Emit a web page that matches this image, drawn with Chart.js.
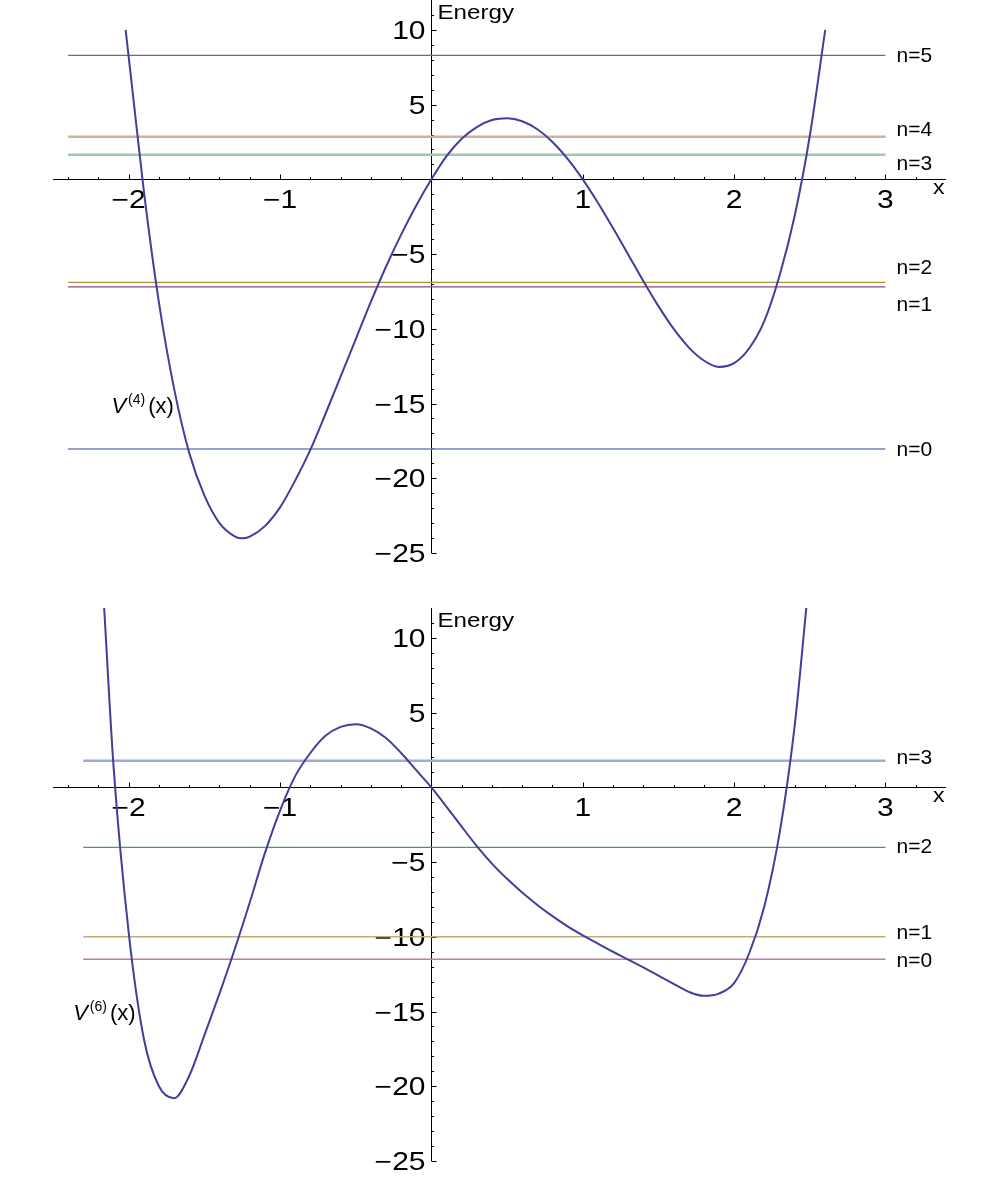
<!DOCTYPE html>
<html>
<head>
<meta charset="utf-8">
<script src="https://cdn.jsdelivr.net/npm/chart.js@4.4.1/dist/chart.umd.min.js"></script>
<style>
  body { margin: 0; background: #fff; }
  canvas { display: block; }
</style>
</head>
<body>
<canvas id="panelTop" width="1000" height="590"></canvas>
<canvas id="panelBottom" width="1000" height="589"></canvas>
<script>
// Potential V(4)(x)
const curveTopX = [-2.02, -1.96, -1.9, -1.8, -1.7, -1.6, -1.5, -1.4, -1.3, -1.25, -1.2, -1.1, -1.0, -0.9, -0.8, -0.7, -0.6, -0.5, -0.4, -0.3, -0.2, -0.1, 0,
  0.1, 0.2, 0.3, 0.4, 0.5, 0.6, 0.7, 0.8, 0.9, 1.0, 1.1, 1.2, 1.3, 1.4, 1.5, 1.6, 1.7, 1.8, 1.9, 2.0, 2.1, 2.2, 2.3, 2.4, 2.5, 2.602];
const curveTopY = [10.0, 4.6, -0.75, -8.25, -14.0, -18.3, -21.15, -23.0, -23.88, -24.02, -23.9, -23.2, -21.95, -20.15, -18.1, -15.7, -13.2, -10.7, -8.2, -5.85, -3.7, -1.75, 0,
  1.55, 2.72, 3.5, 3.97, 4.09, 3.89, 3.35, 2.5, 1.37, 0, -1.56, -3.26, -5.02, -6.8, -8.48, -9.99, -11.24, -12.12, -12.55, -12.3, -11.3, -9.47, -6.45, -2.45, 2.9, 10.0];

// Energy levels, upper plot
const levelsTop = [-18.04, -7.2, -6.89, 1.65, 2.85, 8.29];
const levelNamesTop = ['n=0', 'n=1', 'n=2', 'n=3', 'n=4', 'n=5'];
const levelColorsTop = ['#7282b8', '#8e4a7c', '#a89432', '#9ccba6', '#cab49c', '#8a5a96'];
const levelWidthsTop = [1.5, 1.3, 1.3, 2.5, 2.5, 1.3];
const labelShiftTop = [-1, 16, -16, 8, -8, -1];

// Potential V(6)(x)
const curveBotX = [-2.162, -2.1, -2.0, -1.9, -1.8, -1.7, -1.6, -1.5, -1.4, -1.3, -1.2, -1.1, -1.0, -0.9, -0.8, -0.7, -0.6, -0.5, -0.4, -0.3, -0.2, -0.1, 0,
  0.1, 0.2, 0.3, 0.4, 0.5, 0.6, 0.7, 0.8, 0.9, 1.0, 1.1, 1.2, 1.3, 1.4, 1.5, 1.6, 1.7, 1.8, 1.9, 2.0, 2.1, 2.2, 2.3, 2.4, 2.477];
const curveBotY = [12.0, 1.4, -9.7, -16.8, -20.0, -20.8, -19.3, -16.6, -13.8, -10.85, -7.7, -4.4, -1.55, 0.75, 2.3, 3.45, 4.05, 4.23, 3.95, 3.3, 2.3, 1.15, 0,
  -1.3, -2.63, -3.93, -5.1, -6.12, -7.04, -7.87, -8.62, -9.3, -9.9, -10.45, -11.0, -11.52, -12.05, -12.6, -13.15, -13.68, -13.95, -13.8, -13.1, -11.1, -7.95, -3.1, 4.1, 12.0];

// Energy levels, lower plot
const levelsBot = [-11.5, -10.0, -4.01, 1.78];
const levelNamesBot = ['n=0', 'n=1', 'n=2', 'n=3'];
const levelColorsBot = ['#b87fa8', '#c0ae70', '#4f9960', '#9eabd0'];
const levelWidthsBot = [1.5, 1.5, 1.3, 2.5];
const labelShiftBot = [0, -5, -2, -4];

// axis ticks
const xMajor = [-2, -1, 1, 2, 3];
const yMajor = [-25, -20, -15, -10, -5, 5, 10];

const FONT = '"Liberation Sans", Arial, sans-serif';
const minus = v => (v < 0 ? '\u2212' + Math.abs(v) : String(v));

function stretchText(ctx, text, px, py, sx, align) {
  ctx.save();
  ctx.translate(px, py);
  ctx.scale(sx, 1);
  ctx.textAlign = align;
  ctx.textBaseline = 'alphabetic';
  ctx.fillText(text, 0, 0);
  ctx.restore();
}

const mmaAxes = {
  id: 'mmaAxes',
  beforeDatasetsDraw(chart) {
    const { ctx, chartArea: a } = chart;
    const sx = chart.scales.x, sy = chart.scales.y;
    const x0 = Math.round(sx.getPixelForValue(0)) + 0.5;
    const y0 = Math.round(sy.getPixelForValue(0)) + 0.5;
    ctx.save();
    ctx.strokeStyle = '#000';
    ctx.lineWidth = 1;
    ctx.beginPath();
    ctx.moveTo(a.left, y0); ctx.lineTo(a.right, y0);
    ctx.moveTo(x0, a.top); ctx.lineTo(x0, a.bottom);
    // x ticks every 0.2, major at integers
    for (let i = -12; i <= 16; i++) {
      if (i === 0) continue;
      const px = Math.round(sx.getPixelForValue(i / 5)) + 0.5;
      const len = i % 5 === 0 ? 5 : 2.5;
      ctx.moveTo(px, y0); ctx.lineTo(px, y0 - len);
    }
    // y ticks every 1, major every 5
    for (let v = -25; v <= 11; v++) {
      if (v === 0) continue;
      const py = Math.round(sy.getPixelForValue(v)) + 0.5;
      const len = v % 5 === 0 ? 5 : 2.5;
      ctx.moveTo(x0, py); ctx.lineTo(x0 + len, py);
    }
    ctx.stroke();

    ctx.fillStyle = '#000';
    ctx.font = '25px ' + FONT;
    xMajor.forEach(v => stretchText(ctx, minus(v), sx.getPixelForValue(v), y0 + 28.5, 1.2, 'center'));
    yMajor.forEach(v => stretchText(ctx, minus(v), x0 - 6, sy.getPixelForValue(v) + 9, 1.2, 'right'));

    ctx.font = '21px ' + FONT;
    stretchText(ctx, 'Energy', x0 + 6, a.top + 19, 1.15, 'left');
    stretchText(ctx, 'x', a.right - 13, y0 + 14.5, 1.1, 'left');
    ctx.restore();
  },
  afterDatasetsDraw(chart, args, opts) {
    const { ctx } = chart;
    const sx = chart.scales.x, sy = chart.scales.y;
    ctx.save();
    ctx.fillStyle = '#000';
    ctx.font = '21px ' + FONT;
    ctx.textAlign = 'left';
    ctx.textBaseline = 'alphabetic';
    opts.levels.forEach((e, i) => {
      ctx.fillText(opts.names[i], sx.getPixelForValue(3) + 11, sy.getPixelForValue(e) + opts.shift[i] + 7.6);
    });
    // potential label V^(k)(x)
    let px = sx.getPixelForValue(opts.vx);
    const py = sy.getPixelForValue(opts.vy);
    ctx.font = 'italic 22px ' + FONT;
    ctx.fillText('V', px, py);
    px += ctx.measureText('V').width + 2;
    ctx.font = '14px ' + FONT;
    ctx.fillText(opts.sup, px, py - 9);
    px += ctx.measureText(opts.sup).width + 3;
    ctx.font = '22px ' + FONT;
    ctx.fillText('(x)', px, py);
    ctx.restore();
  }
};

function makePanel(id, cx, cy, levels, names, colors, widths, shift, levelFrom, pad, vLabel) {
  const datasets = [{
    data: cx.map((x, i) => ({ x: x, y: cy[i] })),
    showLine: true,
    borderColor: '#3f3f9c',
    borderWidth: 2,
    pointRadius: 0,
    cubicInterpolationMode: 'monotone'
  }];
  levels.forEach((e, i) => {
    datasets.push({
      data: [{ x: levelFrom, y: e }, { x: 3, y: e }],
      showLine: true,
      borderColor: colors[i],
      borderWidth: widths[i],
      pointRadius: 0
    });
  });
  return new Chart(document.getElementById(id), {
    type: 'scatter',
    data: { datasets: datasets },
    options: {
      responsive: false,
      animation: false,
      layout: { padding: pad },
      plugins: {
        legend: { display: false },
        tooltip: { enabled: false },
        mmaAxes: { levels: levels, names: names, shift: shift, vx: vLabel.x, vy: vLabel.y, sup: vLabel.sup }
      },
      scales: {
        x: { type: 'linear', min: -2.5, max: 3.4, display: false },
        y: { type: 'linear', min: -25, max: 12, display: false }
      }
    },
    plugins: [mmaAxes]
  });
}

makePanel('panelTop', curveTopX, curveTopY, levelsTop, levelNamesTop, levelColorsTop, levelWidthsTop, labelShiftTop, -2.4,
  { left: 53, right: 54, top: 0, bottom: 37 }, { x: -2.114, y: -15.63, sup: '(4)' });
makePanel('panelBottom', curveBotX, curveBotY, levelsBot, levelNamesBot, levelColorsBot, levelWidthsBot, labelShiftBot, -2.3,
  { left: 53, right: 54, top: 18, bottom: 18 }, { x: -2.367, y: -15.57, sup: '(6)' });
</script>
</body>
</html>
